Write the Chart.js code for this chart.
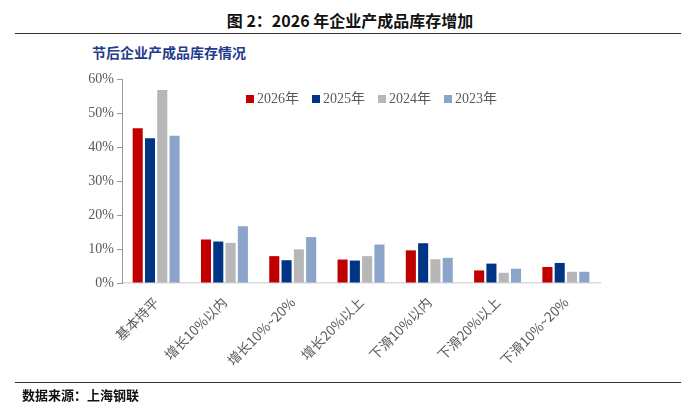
<!DOCTYPE html>
<html>
<head>
<meta charset="utf-8">
<script src="https://cdn.jsdelivr.net/npm/chart.js@4.4.1/dist/chart.umd.min.js"></script>
<style>
    body { margin: 0; background: #fff; }
    #wrap { position: relative; width: 700px; height: 417px; overflow: hidden; }
    #chart-target { position: absolute; left: 0; top: 0; }
    .title { position: absolute; left: 0; width: 700px; top: 8px; text-align: center;
        font: bold 16px "Noto Sans CJK SC", sans-serif; color: #111; }
    .rule { position: absolute; left: 15px; width: 666px; height: 1px; background: #333; }
    .subtitle { position: absolute; left: 92px; top: 42px; font: bold 14px "Noto Sans CJK SC", serif; color: #1f3d8c; }
    .source { position: absolute; left: 22px; top: 385px; font: bold 13px "Noto Sans CJK SC", sans-serif; color: #111; }
    #legend { position: absolute; left: 246px; top: 87px; font: 14px "Liberation Serif", "Noto Sans CJK SC", serif; color: #595959; }
    #legend span.item { display: inline-block; width: 66px; white-space: nowrap; }
    #legend i { display: inline-block; width: 8px; height: 8px; margin-right: 3px; vertical-align: 0px; }
</style>
</head>
<body>
<div id="wrap">
    <div class="title">图 2：2026 年企业产成品库存增加</div>
    <div class="rule" style="top:33px"></div>
    <div class="subtitle">节后企业产成品库存情况</div>
    <canvas id="chart-target" width="700" height="417"></canvas>
    <div id="legend"></div>
    <div class="rule" style="top:382px"></div>
    <div class="source">数据来源：上海钢联</div>
</div>
<script>
const categories = ['基本持平', '增长10%以内', '增长10%~20%', '增长20%以上', '下滑10%以内', '下滑20%以上', '下滑10%~20%'];
const seriesNames = ['2026年', '2025年', '2024年', '2023年'];
const seriesColors = ['#c00000', '#003586', '#b7b7b7', '#8ba4c9'];
const values2026 = [45.5, 12.8, 7.9, 6.9, 9.6, 3.7, 4.7];
const values2025 = [42.6, 12.2, 6.7, 6.6, 11.7, 5.7, 5.9];
const values2024 = [56.8, 11.8, 9.9, 7.9, 7.0, 3.0, 3.3];
const values2023 = [43.3, 16.7, 13.5, 11.3, 7.4, 4.2, 3.3];
const yTicks = [0, 10, 20, 30, 40, 50, 60];

window.onload = () => {
    const allValues = [values2026, values2025, values2024, values2023];
    const datasets = seriesNames.map((name, i) => ({
        label: name,
        data: allValues[i],
        backgroundColor: seriesColors[i],
        categoryPercentage: 0.72,
        barPercentage: 0.82,
    }));

    // legend drawn as html from the same arrays
    const legend = document.getElementById('legend');
    seriesNames.forEach((name, i) => {
        legend.innerHTML += '<span class="item"><i style="background:' + seriesColors[i] + '"></i>' + name + '</span>';
    });

    const target = document.getElementById('chart-target');
    new Chart(target, {
        type: 'bar',
        data: { labels: categories, datasets: datasets },
        options: {
            responsive: false,
            animation: false,
            layout: { padding: { left: 60, right: 100, top: 79, bottom: 32 } },
            plugins: { legend: { display: false }, tooltip: { enabled: false } },
            scales: {
                x: {
                    grid: { display: false },
                    border: { color: '#d9d9d9', width: 1.5 },
                    ticks: {
                        minRotation: 45, maxRotation: 45, autoSkip: false,
                        color: '#595959',
                        font: { family: '"Noto Sans CJK SC", serif', size: 13.5 },
                    },
                    afterFit: (s) => { s.height = 102; },
                },
                y: {
                    min: 0, max: 60,
                    afterBuildTicks: (s) => { s.ticks = yTicks.map(v => ({ value: v })); },
                    grid: { drawOnChartArea: false, tickLength: 5, color: '#999' },
                    border: { color: '#999' },
                    ticks: {
                        color: '#595959',
                        padding: 3,
                        font: { family: '"Liberation Serif", serif', size: 14 },
                        callback: (v) => v + '%',
                    },
                    afterFit: (s) => { s.width = 62; },
                },
            },
        },
    });
}
</script>
</body>
</html>
